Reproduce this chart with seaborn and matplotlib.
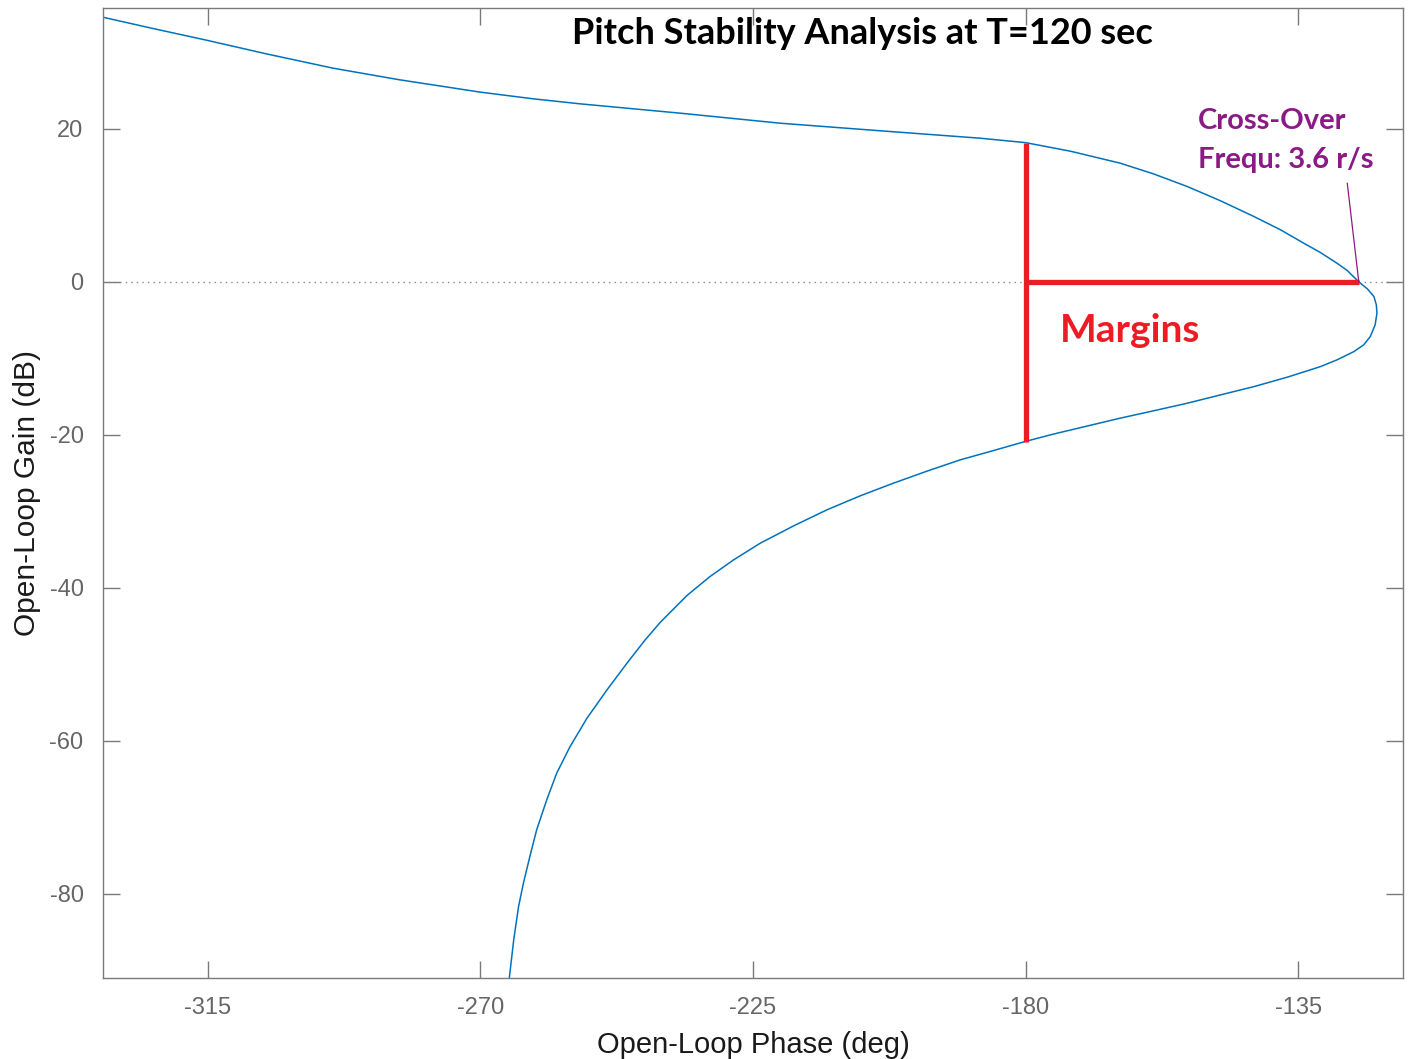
import matplotlib
matplotlib.use("Agg")
import matplotlib.pyplot as plt
import seaborn as sns
import pandas as pd

# Nichols response: open-loop phase (deg) and gain (dB), in order of increasing frequency
phase_deg = [-332.8, -324.0, -315.2, -305.3, -294.3, -283.3, -270.0, -261.2, -253.5, -237.0,
             -220.5, -204.0, -187.5, -180.0, -172.6, -164.4, -158.9, -153.3, -147.8, -142.3,
             -137.9, -134.1, -131.3, -128.6, -126.9, -125.0, -123.6, -122.5, -122.1, -122.0,
             -122.3, -123.1, -124.2, -125.8, -128.6, -131.3, -136.8, -142.3, -147.8, -153.3,
             -158.9, -164.4, -169.9, -175.4, -180.0, -185.3, -190.8, -196.3, -201.8, -207.3,
             -212.8, -218.3, -223.8, -228.2, -232.1, -235.9, -240.3, -242.8, -245.8, -249.1,
             -252.4, -255.2, -257.4, -259.0, -260.7, -261.8, -262.9, -263.7, -264.5, -265.2,
             -265.5]
gain_db = [34.68, 33.11, 31.59, 29.80, 27.93, 26.41, 24.80, 23.92, 23.27, 22.05,
           20.74, 19.75, 18.78, 18.20, 17.08, 15.52, 14.12, 12.46, 10.59, 8.54,
           6.80, 5.06, 3.82, 2.44, 1.48, 0.00, -0.90, -1.92, -3.01, -4.09,
           -5.62, -7.15, -8.24, -9.11, -10.20, -11.07, -12.46, -13.69, -14.77, -15.86,
           -16.86, -17.82, -18.86, -19.90, -20.85, -22.05, -23.27, -24.75, -26.31, -27.97,
           -29.80, -31.90, -34.16, -36.34, -38.52, -41.00, -44.50, -46.80, -49.84, -53.33,
           -57.03, -60.75, -64.22, -67.60, -71.60, -75.00, -78.60, -81.66, -86.01, -90.81,
           -94.00]

# Stability margins
gm_phase = -180.0
gm_low, gm_high = -20.9, 18.2
crossover_phase = -125.0

x_ticks = [-315, -270, -225, -180, -135]
y_ticks = [20, 0, -20, -40, -60, -80]

sns.set_theme(style="white")
plt.rcParams["font.family"] = ["Liberation Sans", "DejaVu Sans"]
plt.rcParams["axes.unicode_minus"] = False

fig = plt.figure(figsize=(14.10, 10.59), dpi=100)
ax = fig.add_axes([103 / 1410, 81 / 1059, 1300 / 1410, 970 / 1059])

df = pd.DataFrame({"phase": phase_deg, "gain": gain_db})
sns.lineplot(data=df, x="phase", y="gain", sort=False, estimator=None,
             color="#0072BD", linewidth=1.1, ax=ax)

# 0 dB reference
ax.axhline(0, color="#8a8a8a", linestyle=(0, (1, 3)), linewidth=1.0, zorder=1)

# margin bars
red = "#ED1C24"
ax.plot([gm_phase, gm_phase], [gm_low, gm_high], color=red, linewidth=3.8,
        solid_capstyle="butt", zorder=3)
ax.plot([gm_phase, crossover_phase], [0, 0], color=red, linewidth=3.8,
        solid_capstyle="butt", zorder=3)

ax.text(-174.3, -6.3, "Margins", color=red, fontsize=28, fontweight="bold",
        family=["Lato", "DejaVu Sans"], ha="left", va="center")

purple = "#8B1A87"
ax.text(-151.6, 21.05, "Cross-Over", color=purple, fontsize=21, fontweight="bold",
        family=["Lato", "DejaVu Sans"], ha="left", va="center")
ax.text(-151.6, 15.95, "Frequ: 3.6 r/s", color=purple, fontsize=21, fontweight="bold",
        family=["Lato", "DejaVu Sans"], ha="left", va="center")
ax.plot([-126.9, crossover_phase], [12.9, 0], color=purple, linewidth=0.9, zorder=4)

ax.set_xlim(-332.3, -117.7)
ax.set_ylim(-91.0, 35.8)
ax.set_xticks(x_ticks)
ax.set_yticks(y_ticks)

spine_color = "#7a7a7a"
for s in ax.spines.values():
    s.set_visible(True)
    s.set_color(spine_color)
    s.set_linewidth(1.0)
ax.tick_params(direction="in", length=12, width=1.0, color=spine_color,
               top=True, right=True, bottom=True, left=True,
               labelsize=17, labelcolor="#666666", pad=14)

ax.set_xlabel("Open-Loop Phase (deg)", fontsize=21, color="#1a1a1a", labelpad=8)
ax.set_ylabel("Open-Loop Gain (dB)", fontsize=21.5, color="#1a1a1a", labelpad=6)

ax.text(0.584, 0.974, "Pitch Stability Analysis at T=120 sec", transform=ax.transAxes,
        fontsize=26, fontweight="bold", color="black", family=["Lato", "DejaVu Sans"],
        ha="center", va="center")

fig.savefig("out.png", dpi=100, facecolor="white")
